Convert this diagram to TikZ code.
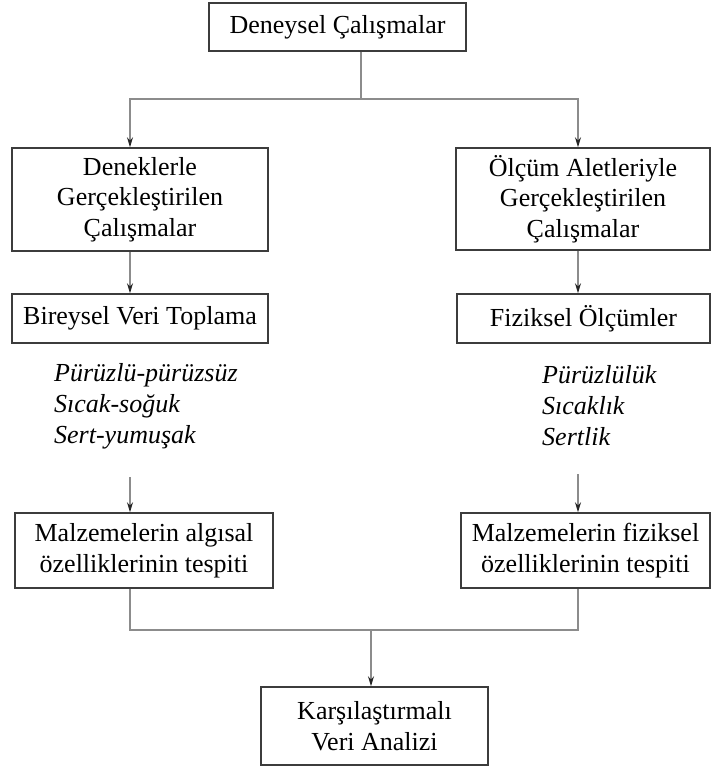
\documentclass[tikz,border=0pt]{standalone}
\usepackage{fontspec}
\setmainfont{Liberation Serif}
\usetikzlibrary{arrows.meta, positioning, calc}
\definecolor{kutucizgi}{HTML}{3C3C3C}
\definecolor{baglanti}{HTML}{8C8C8C}
\tikzset{
  akisbox/.style   = {draw=kutucizgi, line width=1.5pt, align=center,
                      inner sep=0pt, font=\fontsize{26}{30.5}\selectfont},
  akislink/.style  = {draw=baglanti, line width=1.1pt},
  akisflow/.style  = {akislink,
                      -{Stealth[length=10pt, width=6pt, color=black!85]}},
  akisliste/.style = {font=\fontsize{26}{31}\selectfont\itshape,
                      align=left, inner sep=0pt},
}

\begin{document}
\begin{tikzpicture}[x=1pt, y=-1pt]
  \useasboundingbox (0,0) rectangle (711,768);
  % kutular
  \node[akisbox, minimum width=257pt, minimum height=48pt] (deney) at (337.5,27) {Deneysel Çalışmalar};
  \node[akisbox, minimum width=256pt, minimum height=103pt] (denek) at (140,199.5)
       {Deneklerle\\Gerçekleştirilen\\Çalışmalar};
  \node[akisbox, minimum width=254pt, minimum height=102pt] (olcum) at (583,199)
       {Ölçüm Aletleriyle\\Gerçekleştirilen\\Çalışmalar};
  \node[akisbox, minimum width=256pt, minimum height=49pt] (bireysel) at (140,318.5) {Bireysel Veri Toplama};
  \node[akisbox, minimum width=253pt, minimum height=49pt] (fiziksel) at (583.5,318.5) {Fiziksel Ölçümler};
  \node[akisliste, anchor=west] (algliste) at (54,406)
       {Pürüzlü-pürüzsüz\\Sıcak-soğuk\\Sert-yumuşak};
  \node[akisliste, anchor=west] (fizliste) at (542,406)
       {Pürüzlülük\\Sıcaklık\\Sertlik};
  \node[akisbox, minimum width=258pt, minimum height=75pt] (algisal) at (144,550.5)
       {Malzemelerin algısal\\özelliklerinin tespiti};
  \node[akisbox, minimum width=249pt, minimum height=75pt] (fizoz) at (585.5,550.5)
       {Malzemelerin fiziksel\\özelliklerinin tespiti};
  \node[akisbox, minimum width=227pt, minimum height=78pt] (analiz) at (374.5,726)
       {Karşılaştırmalı\\Veri Analizi};
  % dal noktalari
  \coordinate (ayrim) at (361,99);
  \coordinate (solx) at (130,0);
  \coordinate (sagx) at (578,0);
  \coordinate (birles) at (371,630);
  % baglantilar
  \draw[akislink] (deney.south -| ayrim) -- (ayrim);
  \draw[akisflow] (ayrim) -| (denek.north -| solx);
  \draw[akisflow] (ayrim) -| (olcum.north -| sagx);
  \draw[akisflow] (denek.south -| solx) -- (bireysel.north -| solx);
  \draw[akisflow] (olcum.south -| sagx) -- (fiziksel.north -| sagx);
  \draw[akisflow] ([yshift=-28pt]algliste.south -| solx) -- (algisal.north -| solx);
  \draw[akisflow] ([yshift=-28pt]fizliste.south -| sagx) -- (fizoz.north -| sagx);
  \draw[akislink] (algisal.south -| solx) |- (birles);
  \draw[akislink] (fizoz.south -| sagx) |- (birles);
  \draw[akisflow] (birles) -- (analiz.north -| birles);
\end{tikzpicture}
\end{document}
